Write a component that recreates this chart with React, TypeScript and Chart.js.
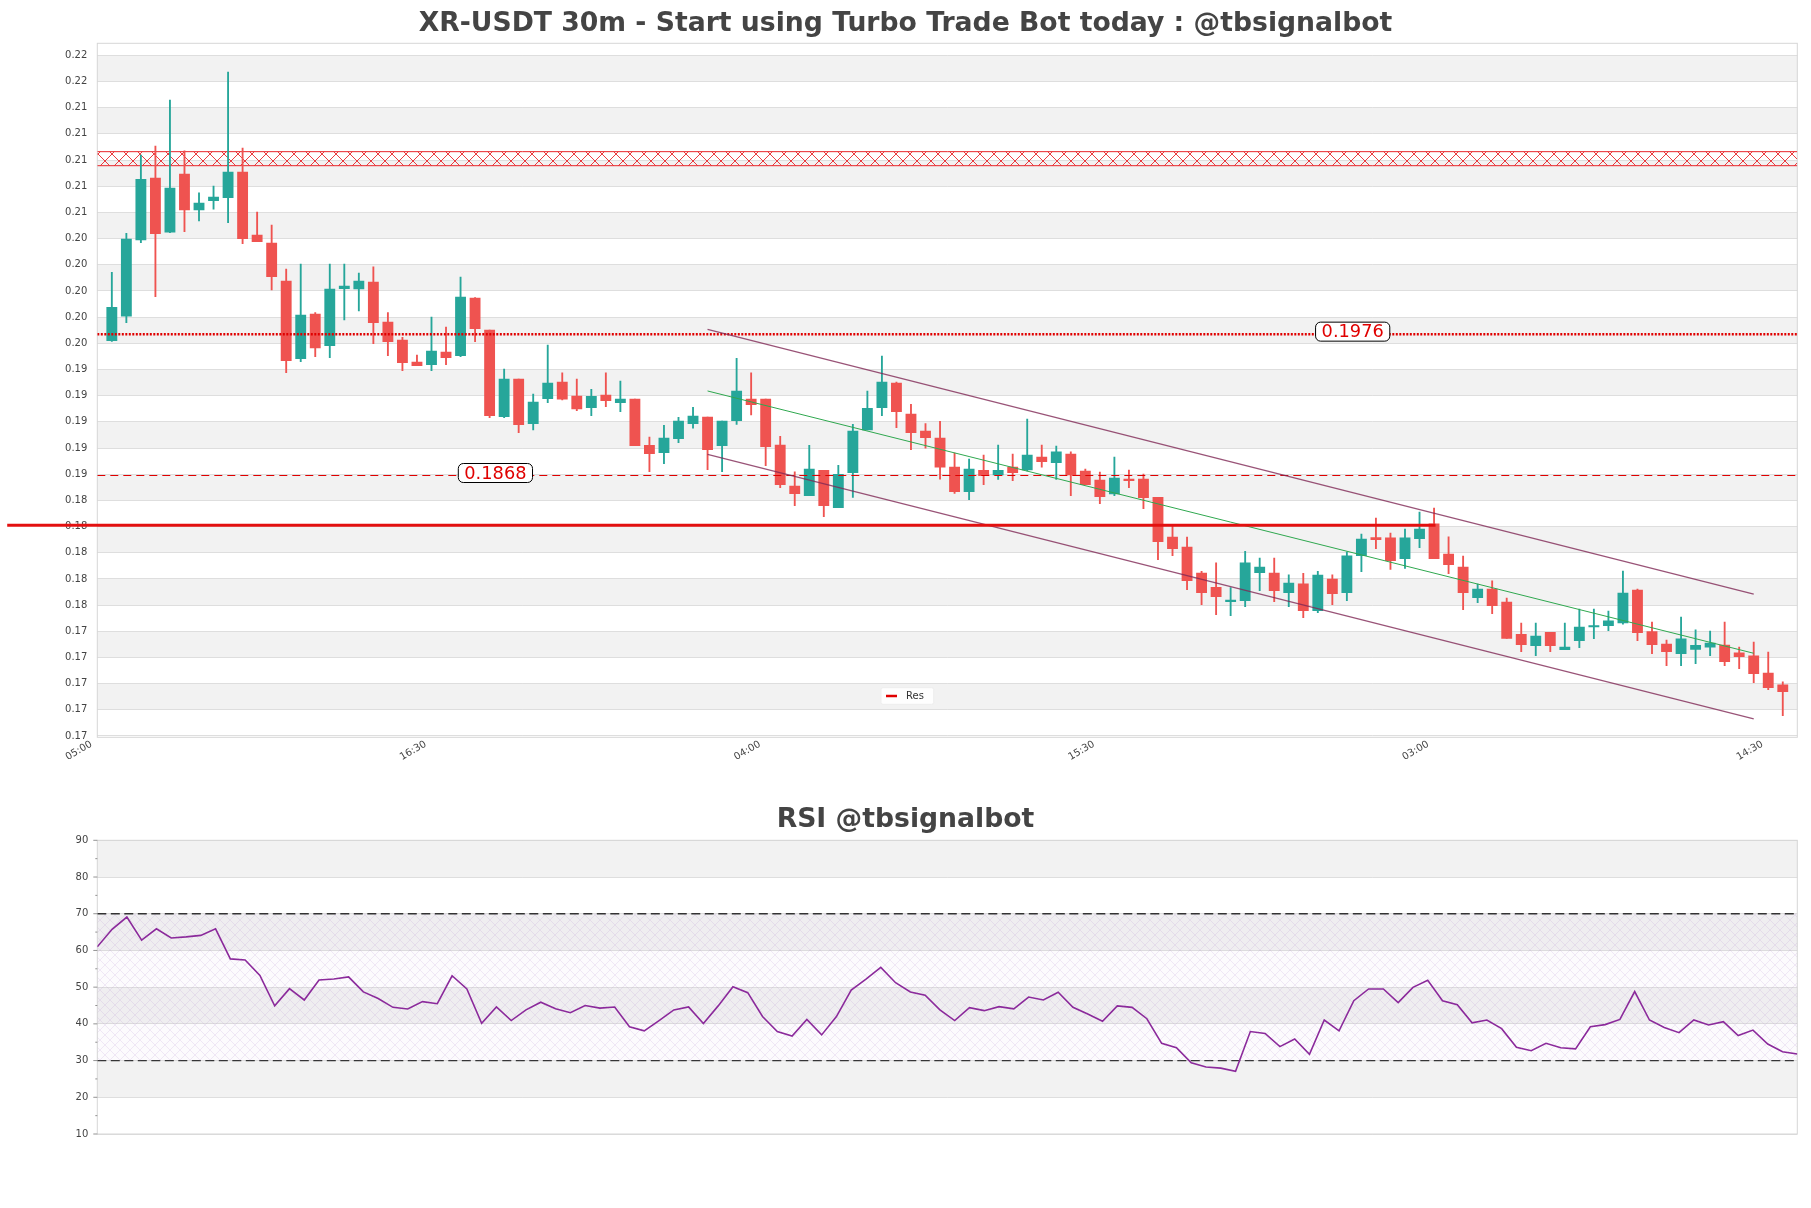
import React, { useEffect, useRef } from 'react';
import { Chart, registerables } from 'chart.js';

Chart.register(...registerables);

const FONT = "'DejaVu Sans', sans-serif";
Chart.defaults.font.family = FONT;

const TITLE = 'XR-USDT 30m - Start using Turbo Trade Bot today : @tbsignalbot';
const RSI_TITLE = 'RSI @tbsignalbot';

// ---- candles (index 1..116, 30m bars) ----
const OPEN = [
  0.19710, 0.19898, 0.20479, 0.20953, 0.20540, 0.20983, 0.20710, 0.20779, 0.20802, 0.20998,
  0.20517, 0.20456, 0.20166, 0.19572, 0.19914, 0.19672, 0.20107, 0.20105, 0.20158, 0.19853,
  0.19715, 0.19547, 0.19526, 0.19623, 0.19595, 0.20036, 0.19791, 0.19129, 0.19417, 0.19076,
  0.19267, 0.19394, 0.19287, 0.19198, 0.19295, 0.19236, 0.19264, 0.18911, 0.18854, 0.18961,
  0.19076, 0.19127, 0.18908, 0.19099, 0.19264, 0.19264, 0.18913, 0.18600, 0.18526, 0.18720,
  0.18434, 0.18701, 0.19028, 0.19198, 0.19387, 0.19150, 0.19020, 0.18966, 0.18745, 0.18556,
  0.18720, 0.18684, 0.18745, 0.18722, 0.18821, 0.18778, 0.18844, 0.18714, 0.18646, 0.18539,
  0.18653, 0.18653, 0.18513, 0.18210, 0.18134, 0.17935, 0.17826, 0.17716, 0.17724, 0.17938,
  0.17935, 0.17785, 0.17853, 0.17647, 0.17889, 0.17785, 0.18067, 0.18205, 0.18203, 0.18044,
  0.18197, 0.18310, 0.18080, 0.17981, 0.17747, 0.17813, 0.17714, 0.17467, 0.17380, 0.17482,
  0.17349, 0.17418, 0.17523, 0.17533, 0.17553, 0.17805, 0.17487, 0.17393, 0.17319, 0.17352,
  0.17368, 0.17385, 0.17326, 0.17303, 0.17171, 0.17080,
];
const HIGH = [
  0.20232, 0.20530, 0.21128, 0.21197, 0.21548, 0.21161, 0.20840, 0.20892, 0.21762, 0.21182,
  0.20693, 0.20594, 0.20257, 0.20296, 0.19924, 0.20296, 0.20296, 0.20227, 0.20275, 0.19924,
  0.19736, 0.19600, 0.19891, 0.19814, 0.20196, 0.20040, 0.19791, 0.19494, 0.19417, 0.19303,
  0.19677, 0.19465, 0.19417, 0.19338, 0.19465, 0.19402, 0.19264, 0.18974, 0.19063, 0.19125,
  0.19201, 0.19127, 0.19096, 0.19575, 0.19465, 0.19264, 0.18979, 0.18709, 0.18911, 0.18720,
  0.18758, 0.19071, 0.19325, 0.19593, 0.19394, 0.19224, 0.19076, 0.19094, 0.18852, 0.18806,
  0.18837, 0.18913, 0.18844, 0.19112, 0.18913, 0.18905, 0.18860, 0.18730, 0.18707, 0.18821,
  0.18722, 0.18691, 0.18513, 0.18297, 0.18210, 0.17948, 0.18012, 0.17823, 0.18101, 0.18050,
  0.18050, 0.17922, 0.17933, 0.17948, 0.17922, 0.18096, 0.18233, 0.18355, 0.18241, 0.18271,
  0.18401, 0.18432, 0.18212, 0.18065, 0.17851, 0.17876, 0.17744, 0.17553, 0.17553, 0.17482,
  0.17553, 0.17660, 0.17660, 0.17645, 0.17950, 0.17813, 0.17561, 0.17423, 0.17599, 0.17502,
  0.17492, 0.17561, 0.17370, 0.17408, 0.17332, 0.17103,
];
const LOW = [
  0.19705, 0.19847, 0.20458, 0.20046, 0.20535, 0.20542, 0.20626, 0.20714, 0.20611, 0.20451,
  0.20466, 0.20097, 0.19465, 0.19549, 0.19588, 0.19580, 0.19868, 0.19937, 0.19687, 0.19595,
  0.19481, 0.19519, 0.19481, 0.19526, 0.19588, 0.19702, 0.19122, 0.19122, 0.19007, 0.19028,
  0.19236, 0.19257, 0.19175, 0.19137, 0.19206, 0.19167, 0.18908, 0.18709, 0.18770, 0.18930,
  0.19041, 0.18724, 0.18709, 0.19071, 0.19142, 0.18755, 0.18587, 0.18449, 0.18526, 0.18365,
  0.18434, 0.18513, 0.19028, 0.19137, 0.19045, 0.18877, 0.18888, 0.18653, 0.18544, 0.18495,
  0.18610, 0.18651, 0.18640, 0.18715, 0.18743, 0.18651, 0.18526, 0.18610, 0.18465, 0.18526,
  0.18587, 0.18426, 0.18037, 0.18067, 0.17808, 0.17693, 0.17617, 0.17609, 0.17678, 0.17800,
  0.17716, 0.17678, 0.17594, 0.17632, 0.17693, 0.17724, 0.17945, 0.18121, 0.17963, 0.17971,
  0.18128, 0.18044, 0.17930, 0.17655, 0.17708, 0.17624, 0.17436, 0.17334, 0.17303, 0.17334,
  0.17349, 0.17365, 0.17433, 0.17494, 0.17545, 0.17418, 0.17319, 0.17227, 0.17227, 0.17242,
  0.17303, 0.17227, 0.17204, 0.17097, 0.17044, 0.16845,
];
const CLOSE = [
  0.19965, 0.20487, 0.20943, 0.20527, 0.20876, 0.20710, 0.20762, 0.20807, 0.20998, 0.20489,
  0.20466, 0.20199, 0.19557, 0.19906, 0.19654, 0.20105, 0.20128, 0.20166, 0.19847, 0.19702,
  0.19542, 0.19519, 0.19631, 0.19580, 0.20044, 0.19801, 0.19137, 0.19417, 0.19068, 0.19241,
  0.19387, 0.19264, 0.19188, 0.19285, 0.19251, 0.19264, 0.18908, 0.18847, 0.18966, 0.19096,
  0.19134, 0.18877, 0.19096, 0.19325, 0.19221, 0.18900, 0.18610, 0.18541, 0.18730, 0.18449,
  0.18689, 0.19020, 0.19193, 0.19394, 0.19167, 0.19007, 0.18969, 0.18743, 0.18556, 0.18730,
  0.18678, 0.18720, 0.18701, 0.18837, 0.18785, 0.18860, 0.18684, 0.18610, 0.18518, 0.18661,
  0.18640, 0.18510, 0.18174, 0.18121, 0.17876, 0.17785, 0.17754, 0.17727, 0.18012, 0.17981,
  0.17800, 0.17859, 0.17647, 0.17920, 0.17777, 0.18067, 0.18195, 0.18190, 0.18029, 0.18203,
  0.18271, 0.18044, 0.17999, 0.17785, 0.17813, 0.17685, 0.17436, 0.17387, 0.17454, 0.17380,
  0.17370, 0.17523, 0.17533, 0.17569, 0.17782, 0.17479, 0.17387, 0.17334, 0.17433, 0.17383,
  0.17400, 0.17258, 0.17296, 0.17166, 0.17059, 0.17028,
];

// ---- RSI (one value per candle) ----
const RSI = [
  61.0, 65.75, 69.1, 62.8, 65.9, 63.4, 63.7, 64.1, 65.9, 57.7,
  57.4, 53.2, 44.9, 49.6, 46.5, 51.95, 52.2, 52.8, 48.7, 46.9,
  44.5, 44.05, 46.05, 45.5, 53.1, 49.5, 40.15, 44.6, 40.9, 43.8,
  45.9, 44.1, 43.05, 45.0, 44.3, 44.6, 39.2, 38.1, 40.9, 43.8,
  44.6, 40.1, 44.9, 50.1, 48.5, 42.0, 37.9, 36.7, 41.2, 37.0,
  42.0, 49.2, 52.2, 55.4, 51.2, 48.7, 47.8, 43.8, 40.9, 44.4,
  43.6, 44.7, 44.1, 47.3, 46.5, 48.6, 44.5, 42.7, 40.7, 44.9,
  44.5, 41.4, 34.7, 33.5, 29.4, 28.25, 27.95, 27.1, 37.9, 37.4,
  33.8, 35.9, 31.7, 41.05, 38.1, 46.3, 49.5, 49.5, 45.8, 49.95,
  51.9, 46.3, 45.2, 40.3, 41.05, 38.7, 33.6, 32.7, 34.7, 33.5,
  33.2, 39.2, 39.8, 41.2, 48.8, 41.05, 39.0, 37.6, 41.05, 39.7,
  40.6, 36.8, 38.3, 34.5, 32.4, 31.8,
];

// ---- axes ----
const X_TICK_POS = [0, 23, 46, 69, 92, 115];
const X_TICK_LABELS = ['05:00', '16:30', '04:00', '15:30', '03:00', '14:30'];
const Y_TICKS = [
  0.1669, 0.1689, 0.1709, 0.1729, 0.1749, 0.1769, 0.1789, 0.1809, 0.1829, 0.1849,
  0.1869, 0.1889, 0.1909, 0.1929, 0.1949, 0.1969, 0.1989, 0.2009, 0.2029, 0.2049,
  0.2069, 0.2089, 0.2109, 0.2129, 0.2149, 0.2169, 0.2189,
];
const Y_RANGE = [0.1668, 0.21982];
const X_RANGE = [0, 117];
const RSI_TICKS = [10, 15, 20, 25, 30, 35, 40, 45, 50, 55, 60, 65, 70, 75, 80, 85, 90];
const RSI_RANGE = [10, 90];

// ---- levels / lines ----
const ZONE = [0.21047, 0.21154];
const LEVEL_DOTTED = 0.1976;
const LEVEL_DASHED = 0.1868;
const RES_LEVEL = 0.1830;
const RES_SPAN = [-6.2, 92.1];
const CHANNEL_X = [42, 114];
const CHANNEL_UPPER = [0.19797, 0.17773];
const CHANNEL_MID = [0.19326, 0.17322];
const CHANNEL_LOWER = [0.18842, 0.16820];
const RSI_BOUNDS = [70, 30];

const UP = '#26a69a';
const DOWN = '#ef5350';
const RED = '#e00000';
const GRID = '#dedede';
const BAND = '#f2f2f2';
const FRAME = '#d6d6d6';
const TEXT = '#444444';
const LABEL_SHIFT = -0.4; // rotated labels sit slightly left of their tick

function makeHatch(size: number, color: string, lw: number, bg?: string): any {
  const c = document.createElement('canvas');
  c.width = size;
  c.height = size;
  const g = c.getContext('2d');
  if (!g) return color;
  if (bg) {
    g.fillStyle = bg;
    g.fillRect(0, 0, size, size);
  }
  g.strokeStyle = color;
  g.lineWidth = lw;
  g.beginPath();
  g.moveTo(-1, -1);
  g.lineTo(size + 1, size + 1);
  g.moveTo(size + 1, -1);
  g.lineTo(-1, size + 1);
  g.stroke();
  return g.createPattern(c, 'repeat') || color;
}

function bandsPlugin(isMajor: (v: number) => boolean) {
  return {
    id: 'bands',
    beforeDraw(chart: any) {
      const { ctx, chartArea: a, scales } = chart;
      const y = scales.y;
      const majors = y.ticks.map((t: any) => t.value).filter(isMajor).sort((p: number, q: number) => p - q);
      ctx.save();
      ctx.fillStyle = BAND;
      for (let i = 1; i + 1 < majors.length; i += 2) {
        const y1 = y.getPixelForValue(majors[i + 1]);
        const y2 = y.getPixelForValue(majors[i]);
        ctx.fillRect(a.left, y1, a.right - a.left, y2 - y1);
      }
      ctx.restore();
    },
  };
}

function framePlugin(minorTicks: boolean) {
  return {
    id: 'frame',
    beforeDatasetsDraw(chart: any) {
      const { ctx, chartArea: a, scales } = chart;
      ctx.save();
      ctx.strokeStyle = FRAME;
      ctx.lineWidth = 1;
      ctx.strokeRect(a.left, a.top, a.right - a.left, a.bottom - a.top);
      if (minorTicks) {
        const y = scales.y;
        ctx.strokeStyle = '#777';
        ctx.lineWidth = 0.8;
        y.ticks.forEach((t: any) => {
          const py = y.getPixelForValue(t.value);
          const len = t.value % 10 === 0 ? 4 : 2;
          ctx.beginPath();
          ctx.moveTo(a.left - len, py);
          ctx.lineTo(a.left, py);
          ctx.stroke();
        });
      }
      ctx.restore();
    },
  };
}

const levelLabelsPlugin = {
  id: 'levelLabels',
  afterDatasetsDraw(chart: any) {
    const { ctx, scales } = chart;
    const items = [
      { value: LEVEL_DOTTED, at: 86.4 },
      { value: LEVEL_DASHED, at: 27.4 },
    ];
    ctx.save();
    ctx.font = `17.8px ${FONT}`;
    items.forEach((it) => {
      const text = it.value.toFixed(4);
      const w = ctx.measureText(text).width + 12;
      const h = 19;
      const cx = scales.x.getPixelForValue(it.at);
      const cy = scales.y.getPixelForValue(it.value) - 2.5;
      ctx.beginPath();
      ctx.roundRect(cx - w / 2, cy - h / 2, w, h, 5);
      ctx.fillStyle = '#ffffff';
      ctx.fill();
      ctx.strokeStyle = '#000000';
      ctx.lineWidth = 1;
      ctx.stroke();
      ctx.fillStyle = RED;
      ctx.textAlign = 'center';
      ctx.textBaseline = 'middle';
      ctx.fillText(text, cx, cy + 1);
    });
    ctx.restore();
  },
};

const resLegendPlugin = {
  id: 'resLegend',
  afterDatasetsDraw(chart: any) {
    const { ctx, chartArea: a } = chart;
    const left = a.left + 783.7;
    const top = a.bottom - 49.6;
    ctx.save();
    ctx.fillStyle = 'rgba(255,255,255,0.9)';
    ctx.strokeStyle = '#eeeeee';
    ctx.lineWidth = 1;
    ctx.beginPath();
    ctx.roundRect(left, top, 52.7, 16.6, 2);
    ctx.fill();
    ctx.stroke();
    ctx.strokeStyle = RED;
    ctx.lineWidth = 2.5;
    ctx.beginPath();
    ctx.moveTo(left + 5, top + 8.3);
    ctx.lineTo(left + 16, top + 8.3);
    ctx.stroke();
    ctx.fillStyle = '#333333';
    ctx.font = `10px ${FONT}`;
    ctx.textAlign = 'left';
    ctx.textBaseline = 'middle';
    ctx.fillText('Res', left + 25, top + 8.6);
    ctx.restore();
  },
};

function hline(label: string, y: number, x0: number, x1: number, extra: any) {
  return {
    type: 'line',
    label,
    data: [{ x: x0, y }, { x: x1, y }],
    pointRadius: 0,
    tension: 0,
    fill: false,
    ...extra,
  };
}

export default function App() {
  const mainRef = useRef<HTMLCanvasElement>(null);
  const rsiRef = useRef<HTMLCanvasElement>(null);

  useEffect(() => {
    const idx = OPEN.map((_, i) => i + 1);
    const colors = OPEN.map((o, i) => (CLOSE[i] >= o ? UP : DOWN));
    const zoneHatch = makeHatch(14, '#e8262a', 0.9);
    const rsiHatch = makeHatch(10, 'rgba(170,120,200,0.26)', 0.6, 'rgba(190,150,215,0.04)');

    const main = new Chart(mainRef.current as HTMLCanvasElement, {
      type: 'bar',
      data: {
        datasets: [
          {
            type: 'bar',
            label: 'wick',
            data: idx.map((x, i) => ({ x, y: [LOW[i], HIGH[i]] })),
            backgroundColor: colors,
            borderWidth: 0,
            barThickness: 1.2,
            grouped: false,
            order: 6,
          },
          {
            type: 'bar',
            label: 'body',
            data: idx.map((x, i) => ({ x, y: [OPEN[i], CLOSE[i]] })),
            backgroundColor: colors,
            borderWidth: 0,
            barThickness: 10.2,
            minBarLength: 1.5,
            grouped: false,
            order: 5,
          },
          hline('zoneTop', ZONE[1], X_RANGE[0], X_RANGE[1], {
            borderColor: '#e8262a', borderWidth: 1, fill: '+1', backgroundColor: zoneHatch, order: 8,
          }),
          hline('zoneBottom', ZONE[0], X_RANGE[0], X_RANGE[1], {
            borderColor: '#e8262a', borderWidth: 1, order: 8,
          }),
          hline('level1976', LEVEL_DOTTED, X_RANGE[0], X_RANGE[1], {
            borderColor: RED, borderWidth: 2.5, borderDash: [2, 1.5], order: 3,
          }),
          hline('level1868', LEVEL_DASHED, X_RANGE[0], X_RANGE[1], {
            borderColor: RED, borderWidth: 1.2, borderDash: [8, 5], order: 3,
          }),
          {
            type: 'line',
            label: 'chUpper',
            data: CHANNEL_X.map((x, i) => ({ x, y: CHANNEL_UPPER[i] })),
            borderColor: 'rgba(128,40,85,0.8)', borderWidth: 1.3, pointRadius: 0, fill: false, order: 2,
          },
          {
            type: 'line',
            label: 'chMid',
            data: CHANNEL_X.map((x, i) => ({ x, y: CHANNEL_MID[i] })),
            borderColor: '#2fa84f', borderWidth: 1, pointRadius: 0, fill: false, order: 2,
          },
          {
            type: 'line',
            label: 'chLower',
            data: CHANNEL_X.map((x, i) => ({ x, y: CHANNEL_LOWER[i] })),
            borderColor: 'rgba(128,40,85,0.8)', borderWidth: 1.3, pointRadius: 0, fill: false, order: 2,
          },
          hline('Res', RES_LEVEL, RES_SPAN[0], RES_SPAN[1], {
            borderColor: '#e31010', borderWidth: 3, clip: false, order: 1,
          }),
        ] as any,
      },
      options: {
        responsive: false,
        devicePixelRatio: 1,
        animation: false,
        events: [],
        layout: { padding: { left: 13.7, right: 13.7, top: 0, bottom: 0 } },
        plugins: {
          legend: { display: false },
          tooltip: { enabled: false },
          title: {
            display: true,
            text: TITLE,
            color: TEXT,
            font: { family: FONT, size: 26.67, weight: 'bold', lineHeight: 1.2 },
            padding: { top: 7.6, bottom: 3.7 },
          },
        },
        scales: {
          x: {
            type: 'linear',
            min: X_RANGE[0],
            max: X_RANGE[1],
            offset: false,
            grid: { display: false, drawTicks: false, offset: false },
            border: { display: false },
            afterBuildTicks: (s: any) => { s.ticks = X_TICK_POS.map((v) => ({ value: v + LABEL_SHIFT })); },
            afterFit: (s: any) => { s.height = 52.7; },
            ticks: {
              autoSkip: false,
              minRotation: 30,
              maxRotation: 30,
              padding: 1,
              color: TEXT,
              font: { size: 10, family: FONT },
              callback: (_v: any, i: number) => X_TICK_LABELS[i] ?? '',
            },
          },
          y: {
            type: 'linear',
            min: Y_RANGE[0],
            max: Y_RANGE[1],
            grid: { color: GRID, lineWidth: 1, drawTicks: false },
            border: { display: false },
            afterBuildTicks: (s: any) => { s.ticks = Y_TICKS.map((v) => ({ value: v })); },
            afterFit: (s: any) => { s.width = 83.6; },
            ticks: {
              padding: 10,
              color: TEXT,
              font: { size: 10, family: FONT },
              callback: (v: any) => Number(v).toFixed(2),
            },
          },
        },
      } as any,
      plugins: [bandsPlugin(() => true), framePlugin(false), levelLabelsPlugin, resLegendPlugin],
    });

    const rsi = new Chart(rsiRef.current as HTMLCanvasElement, {
      type: 'line',
      data: {
        datasets: [
          {
            label: 'RSI',
            data: RSI.map((v, i) => ({ x: i + 1, y: v })),
            borderColor: '#8b2a9b',
            borderWidth: 1.6,
            pointRadius: 0,
            tension: 0,
            fill: false,
            order: 0,
          },
          hline('overbought', RSI_BOUNDS[0], 1, RSI.length, {
            borderColor: '#333333', borderWidth: 1.3, borderDash: [9, 4.5],
            fill: '+1', backgroundColor: rsiHatch, order: 1,
          }),
          hline('oversold', RSI_BOUNDS[1], 1, RSI.length, {
            borderColor: '#333333', borderWidth: 1.3, borderDash: [9, 4.5], order: 2,
          }),
        ] as any,
      },
      options: {
        responsive: false,
        devicePixelRatio: 1,
        animation: false,
        events: [],
        layout: { padding: { left: 13.7, right: 13.7, top: 0, bottom: 74 } },
        plugins: {
          legend: { display: false },
          tooltip: { enabled: false },
          title: {
            display: true,
            text: RSI_TITLE,
            color: TEXT,
            font: { family: FONT, size: 26.67, weight: 'bold', lineHeight: 1.2 },
            padding: { top: 14.3, bottom: 4.0 },
          },
        },
        scales: {
          x: {
            type: 'linear',
            min: 1,
            max: RSI.length,
            display: false,
          },
          y: {
            type: 'linear',
            min: RSI_RANGE[0],
            max: RSI_RANGE[1],
            grid: {
              color: (c: any) => (c.tick && c.tick.value % 10 === 0 ? GRID : 'rgba(0,0,0,0)'),
              lineWidth: 1,
              drawTicks: false,
            },
            border: { display: false },
            afterBuildTicks: (s: any) => { s.ticks = RSI_TICKS.map((v) => ({ value: v })); },
            afterFit: (s: any) => { s.width = 83.6; },
            ticks: {
              padding: 9,
              color: TEXT,
              font: { size: 10, family: FONT },
              callback: (v: any) => (Number(v) % 10 === 0 ? String(v) : ''),
            },
          },
        },
      } as any,
      plugins: [bandsPlugin((v) => v % 10 === 0), framePlugin(true)],
    });

    return () => {
      main.destroy();
      rsi.destroy();
    };
  }, []);

  return (
    <div style={{ position: 'absolute', left: 0, top: 0, width: 1811, height: 1208, background: '#ffffff' }}>
      <canvas
        ref={mainRef}
        width={1811}
        height={790}
        style={{ position: 'absolute', left: 0, top: 0, width: 1811, height: 790 }}
      />
      <canvas
        ref={rsiRef}
        width={1811}
        height={418}
        style={{ position: 'absolute', left: 0, top: 790, width: 1811, height: 418 }}
      />
    </div>
  );
}
